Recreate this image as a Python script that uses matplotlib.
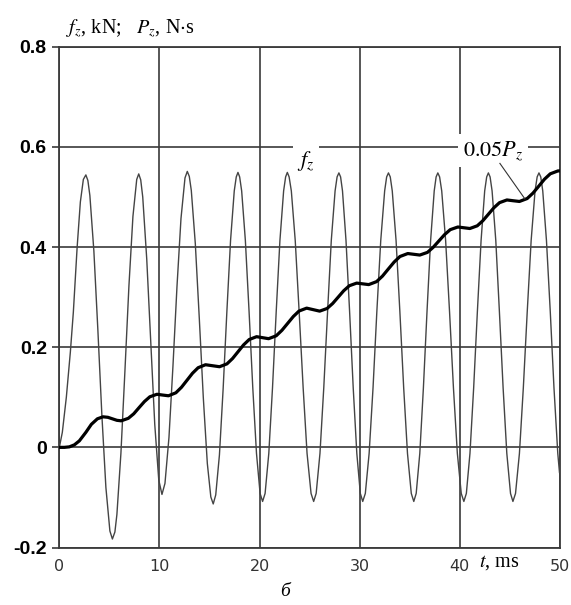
import matplotlib
matplotlib.use("Agg")
import matplotlib.pyplot as plt

# f_z, kN  (thin oscillating curve)
t_f = [0.0, 0.3, 0.7, 1.1, 1.4, 1.78, 2.1, 2.4, 2.65, 2.85, 3.05, 3.45, 3.85, 4.25, 4.65, 5.05, 5.3,
       5.55, 5.75, 6.15, 6.55, 6.95, 7.35, 7.73, 7.93,
       8.13, 8.33, 8.73, 9.13, 9.53, 9.93, 10.25,
       10.55, 10.95, 11.35, 11.75, 12.15, 12.55, 12.78,
       12.98, 13.18, 13.58, 13.98, 14.38, 14.78, 15.13, 15.37,
       15.62, 15.99, 16.36, 16.73, 17.10, 17.47, 17.67, 17.84,
       18.01, 18.21, 18.58, 18.95, 19.32, 19.69, 20.05, 20.3,
       20.55, 20.92, 21.29, 21.66, 22.03, 22.40, 22.60, 22.77,
       22.95, 23.17, 23.56, 23.95, 24.35, 24.74, 25.14, 25.4,
       25.65, 26.03, 26.41, 26.79, 27.16, 27.54, 27.74, 27.92,
       28.09, 28.28, 28.63, 28.99, 29.35, 29.71, 30.06, 30.3,
       30.56, 30.94, 31.33, 31.71, 32.10, 32.49, 32.69, 32.87,
       33.05, 33.25, 33.63, 34.01, 34.39, 34.77, 35.15, 35.4,
       35.64, 36.0, 36.36, 36.72, 37.08, 37.44, 37.63, 37.8,
       37.98, 38.19, 38.58, 38.97, 39.36, 39.75, 40.14, 40.4,
       40.65, 41.01, 41.38, 41.75, 42.12, 42.48, 42.68, 42.85,
       43.02, 43.22, 43.59, 43.95, 44.32, 44.69, 45.06, 45.3,
       45.56, 45.95, 46.34, 46.73, 47.12, 47.51, 47.72, 47.9,
       48.08, 48.28, 48.65, 49.03, 49.4, 49.78, 49.95]
f_z = [0.0, 0.03, 0.10, 0.19, 0.27, 0.40, 0.49, 0.535, 0.544, 0.533, 0.503, 0.392, 0.234, 0.064, -0.080, -0.167, -0.183,
       -0.169, -0.134, -0.012, 0.152, 0.322, 0.461, 0.535, 0.546,
       0.534, 0.500, 0.376, 0.209, 0.046, -0.065, -0.094,
       -0.072, 0.020, 0.163, 0.321, 0.457, 0.538, 0.551,
       0.541, 0.513, 0.407, 0.257, 0.099, -0.032, -0.099, -0.113,
       -0.095, -0.015, 0.117, 0.270, 0.413, 0.512, 0.540, 0.549,
       0.540, 0.512, 0.413, 0.271, 0.119, -0.012, -0.092, -0.108,
       -0.092, -0.012, 0.119, 0.271, 0.413, 0.512, 0.540, 0.549,
       0.540, 0.512, 0.413, 0.271, 0.119, -0.012, -0.092, -0.108,
       -0.092, -0.012, 0.119, 0.271, 0.413, 0.512, 0.540, 0.548,
       0.540, 0.512, 0.413, 0.271, 0.119, -0.012, -0.092, -0.108,
       -0.092, -0.012, 0.119, 0.271, 0.413, 0.512, 0.540, 0.548,
       0.540, 0.512, 0.413, 0.271, 0.119, -0.012, -0.092, -0.108,
       -0.092, -0.012, 0.119, 0.271, 0.413, 0.512, 0.540, 0.548,
       0.540, 0.512, 0.413, 0.271, 0.119, -0.012, -0.092, -0.108,
       -0.092, -0.012, 0.119, 0.271, 0.413, 0.512, 0.540, 0.548,
       0.540, 0.512, 0.413, 0.271, 0.119, -0.012, -0.092, -0.108,
       -0.092, -0.012, 0.119, 0.271, 0.413, 0.512, 0.540, 0.548,
       0.540, 0.512, 0.413, 0.271, 0.119, -0.012, -0.050]

# 0.05 P_z, N*s (thick stepped curve)
t_p = [0.0, 0.5, 1.0, 1.5, 2.0, 2.65, 3.2, 3.8, 4.36, 4.85, 5.3, 5.75, 6.18,
       6.89, 7.43, 7.97, 8.50, 9.04, 9.75, 10.3, 10.9,
       11.64, 12.2, 12.75, 13.3, 13.86, 14.6, 15.3, 16.0,
       16.74, 17.3, 17.85, 18.4, 18.96, 19.7, 20.3, 20.9,
       21.66, 22.23, 22.8, 23.37, 23.94, 24.7, 25.35, 26.0,
       26.74, 27.3, 27.85, 28.4, 28.96, 29.7, 30.3, 30.9,
       31.68, 32.27, 32.85, 33.44, 34.02, 34.8, 35.4, 36.0,
       36.76, 37.33, 37.9, 38.47, 39.04, 39.8, 40.4, 41.0,
       41.74, 42.3, 42.85, 43.4, 43.96, 44.7, 45.3, 45.95,
       46.72, 47.3, 47.88, 48.45, 49.03, 49.8, 50.0]
p_z = [0.0, 0.0, 0.001, 0.005, 0.013, 0.030, 0.046, 0.057, 0.061, 0.060, 0.057, 0.054, 0.053,
       0.058, 0.067, 0.0795, 0.0915, 0.101, 0.106, 0.1045, 0.103,
       0.109, 0.120, 0.134, 0.148, 0.159, 0.165, 0.163, 0.161,
       0.1667, 0.1774, 0.191, 0.2046, 0.2153, 0.221, 0.219, 0.217,
       0.2228, 0.2337, 0.2475, 0.2613, 0.2722, 0.278, 0.275, 0.272,
       0.2773, 0.2873, 0.300, 0.3127, 0.3227, 0.328, 0.3265, 0.325,
       0.3309, 0.3419, 0.356, 0.3701, 0.3811, 0.387, 0.3855, 0.384,
       0.3893, 0.3993, 0.412, 0.4247, 0.4347, 0.440, 0.4385, 0.437,
       0.4424, 0.4526, 0.4655, 0.4784, 0.4886, 0.494, 0.4925, 0.491,
       0.4968, 0.5076, 0.5215, 0.5354, 0.5462, 0.552, 0.552]

x_ticks = [0, 10, 20, 30, 40, 50]
y_ticks = [-0.2, 0, 0.2, 0.4, 0.6, 0.8]
y_labels = ['-0.2', '0', '0.2', '0.4', '0.6', '0.8']

plt.rcParams['mathtext.fontset'] = 'stix'
serif = ['Liberation Serif', 'DejaVu Serif']
gc = '#3a3a3a'

fig = plt.figure(figsize=(5.71, 6.05), dpi=100)
ax = fig.add_axes([0.1039, 0.095, 0.8768, 0.8278])

ax.plot(t_f, f_z, color='#444444', lw=1.0, zorder=3)
ax.plot(t_p, p_z, color='black', lw=2.3, zorder=4, solid_capstyle='round', solid_joinstyle='round')

ax.set_xlim(0, 50)
ax.set_ylim(-0.2, 0.8)
ax.set_xticks(x_ticks)
ax.set_yticks(y_ticks)
ax.set_yticklabels(y_labels)
ax.grid(True, color=gc, lw=1.2, zorder=1)
ax.set_axisbelow(True)
for s in ax.spines.values():
    s.set_color(gc)
    s.set_linewidth(1.3)

ax.tick_params(axis='x', length=0, pad=8, labelsize=11.5, labelcolor='#333333')
ax.tick_params(axis='y', length=5, width=1.2, color=gc, pad=4, labelsize=14)
for lab in ax.get_yticklabels():
    lab.set_fontfamily('Liberation Sans')
    lab.set_fontweight('bold')

box = dict(boxstyle='square,pad=0.2', fc='white', ec='none')
ax.text(24.6, 0.572, r'$f_z$', fontsize=16, ha='center', va='center', bbox=box, zorder=5)
ax.text(43.3, 0.592, r'$\mathrm{0.05}P_z$', fontsize=16, ha='center', va='center', bbox=box, zorder=5)
ax.plot([44.0, 46.5], [0.567, 0.496], color='#333333', lw=0.8, zorder=5)

ax.text(0.7, 0.835, r'$f_z$, kN;   $P_z$, N$\cdot$s', fontsize=14.5, family=serif,
        ha='left', va='center', clip_on=False)
ax.text(43.9, -0.229, r'$t$, ms', fontsize=14.5, family=serif, ha='center', va='center',
        bbox=dict(boxstyle='square,pad=0.1', fc='white', ec='none'), clip_on=False)
fig.text(285 / 571, 1 - 592 / 605, 'б', fontsize=14, family=serif, style='italic',
         ha='center', va='center')

fig.savefig('out.png', dpi=100)
